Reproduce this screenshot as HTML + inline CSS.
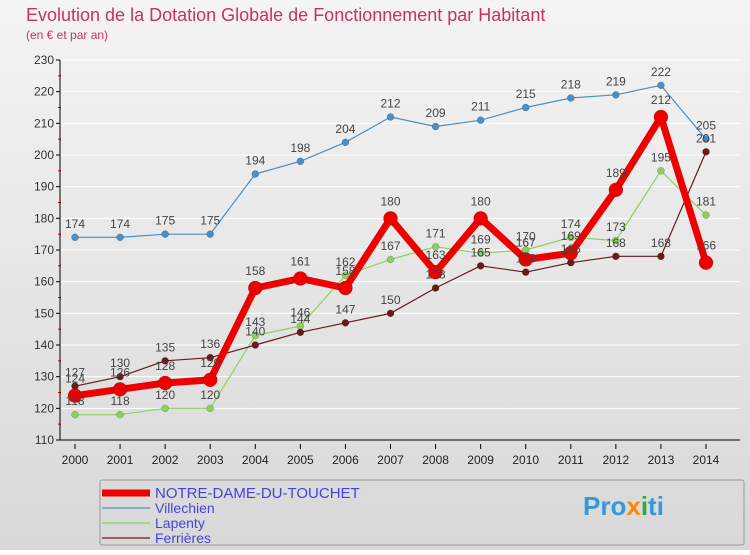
<!DOCTYPE html>
<html><head><meta charset="utf-8"><style>
body{margin:0;width:750px;height:550px;overflow:hidden;font-family:"Liberation Sans",sans-serif}
</style></head><body>
<svg id="c" width="750" height="550" xmlns="http://www.w3.org/2000/svg">
<defs><linearGradient id="bg" x1="0" y1="0" x2="0" y2="1"><stop offset="0" stop-color="#f4f4f4"/><stop offset="1" stop-color="#d8d8d8"/></linearGradient></defs>
<rect width="750" height="550" fill="url(#bg)"/>
<text x="26" y="21" font-size="18" fill="#c8306a">Evolution de la Dotation Globale de Fonctionnement par Habitant</text>
<text x="26" y="39" font-size="12" fill="#c8306a">(en € et par an)</text>
<g id="grid"></g><g id="axes"></g><g id="series"></g><g id="labels"></g>
<rect x="100" y="480" width="644" height="65" fill="none" stroke="#999" rx="2"/>
<g id="legend"></g>
<text x="583" y="515" font-size="26" font-weight="bold" fill="#3399dd">Pro<tspan fill="#ff8800">x</tspan><tspan fill="#33aa33">i</tspan>ti</text>
</svg>
<script>
const years=[2000,2001,2002,2003,2004,2005,2006,2007,2008,2009,2010,2011,2012,2013,2014];
const yTicks=[110,120,130,140,150,160,170,180,190,200,210,220,230];
const notreDame=[124,126,128,129,158,161,158,180,163,180,167,169,189,212,166];
const villechien=[174,174,175,175,194,198,204,212,209,211,215,218,219,222,205];
const lapenty=[118,118,120,120,143,146,162,167,171,169,170,174,173,195,181];
const ferrieres=[127,130,135,136,140,144,147,150,158,165,163,166,168,168,201];
const NS="http://www.w3.org/2000/svg";
const x=i=>75+i*(706-75)/(years.length-1);
const y=v=>440-(v-110)*(380/120);
function mk(tag,attrs,parent){const e=document.createElementNS(NS,tag);for(const k in attrs)e.setAttribute(k,attrs[k]);document.getElementById(parent).appendChild(e);return e;}
yTicks.forEach(t=>{
  const l=mk('line',{x1:60,x2:740,y1:y(t),y2:y(t),stroke:'#fff','stroke-width':1},'grid');
  
  
  const tk=mk('line',{x1:56,x2:60,y1:y(t),y2:y(t),stroke:'#000'},'axes');
  
  
  const tx=mk('text',{x:54,y:y(t)+4,'text-anchor':'end','font-size':12,fill:'#333'},'axes');
  tx.textContent=t;
  
  
  if(t<230){const m=mk('line',{x1:58,x2:61,y1:y(t+5),y2:y(t+5),stroke:'#e00'},'axes');
  
  }
});
const ax=mk('path',{d:'M60 60V440H740',fill:'none',stroke:'#000'},'axes');


years.forEach((yr,i)=>{
  const tk=mk('line',{x1:x(i),x2:x(i),y1:444,y2:449,stroke:'#000'},'axes');
  
  
  const tx=mk('text',{x:x(i),y:464,'text-anchor':'middle','font-size':12,fill:'#222'},'axes');
  tx.textContent=yr;
  
  
});
const series=[
 {name:'villechien',label:'Villechien',data:villechien,color:'#4a90c8',w:1.2,r:3.5},
 {name:'lapenty',label:'Lapenty',data:lapenty,color:'#8ed060',w:1.2,r:3.5},
 {name:'ferrieres',label:'Ferrières',data:ferrieres,color:'#6a1a1a',w:1.2,r:3.5},
 {name:'notre-dame',label:'NOTRE-DAME-DU-TOUCHET',data:notreDame,color:'#ee0000',w:7,r:7}
];
series.forEach(s=>{
  const p=mk('polyline',{points:s.data.map((v,i)=>x(i)+','+y(v)).join(' '),fill:'none',stroke:s.color,'stroke-width':s.w,'stroke-linejoin':'round'},'series');
  
  
  s.data.forEach((v,i)=>{
    const c=mk('circle',{cx:x(i),cy:y(v),r:s.r,fill:s.color,stroke:'rgba(0,0,0,0.3)','stroke-width':0.5},'series');
    
    
    const t=mk('text',{x:x(i),y:y(v)-(s.r+6),'text-anchor':'middle','font-size':12,fill:'#444'},'labels');
    t.textContent=v;
    
    
  });
});
const leg=[series[3],series[0],series[1],series[2]];
leg.forEach((s,k)=>{
  const yy=493+k*15;
  const l=mk('line',{x1:102,x2:150,y1:yy,y2:yy,stroke:s.color,'stroke-width':s.w},'legend');
  
  
  const t=mk('text',{x:155,y:yy+5,'font-size':k==0?15:14,fill:'#4444dd'},'legend');
  t.textContent=s.label;
  
  
});
</script>
</body></html>
